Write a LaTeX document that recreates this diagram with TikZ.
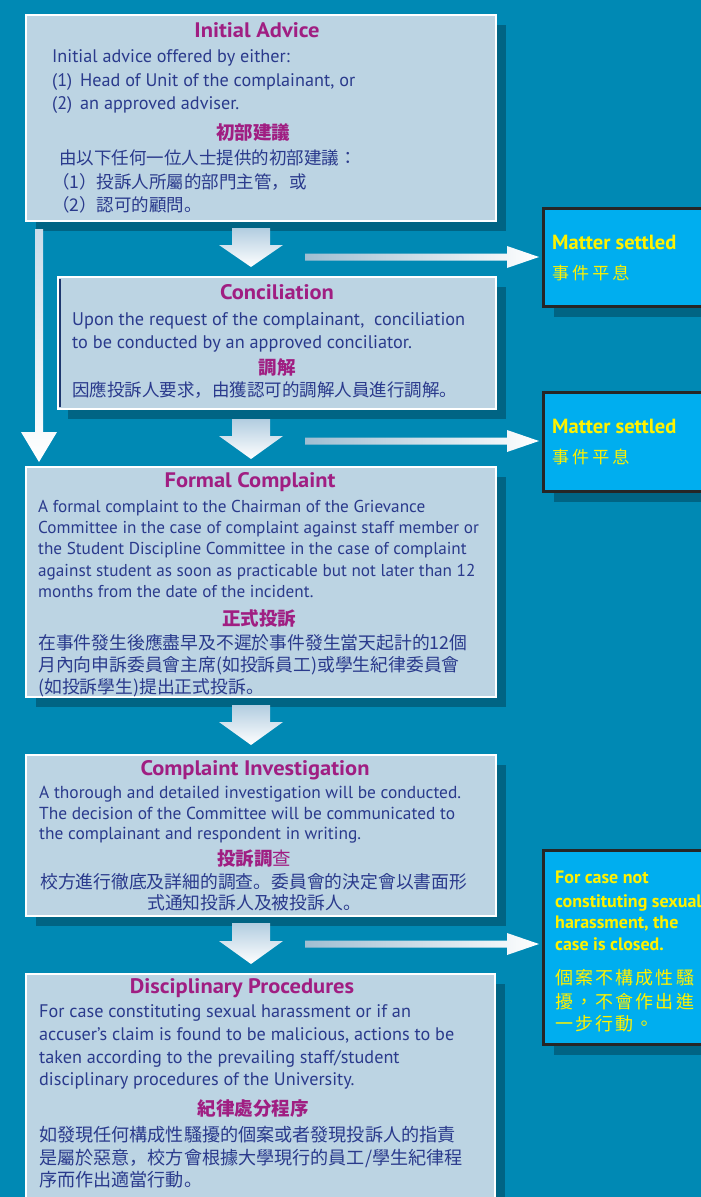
\documentclass[tikz,border=0pt]{standalone}
\usepackage{fontspec}
\setmainfont{PT Sans}
\newfontfamily\cjk{Noto Sans CJK JP}
\newfontfamily\cjkls[LetterSpace=18]{Noto Sans CJK JP}
\newfontfamily\cjklt[LetterSpace=12]{Noto Sans CJK TC}
\newfontfamily\headf[FakeStretch=1.07]{PT Sans}
\usetikzlibrary{shadows}
\definecolor{bgc}{RGB}{0,137,180}
\definecolor{boxc}{RGB}{188,212,227}
\definecolor{shc}{RGB}{0,100,132}
\definecolor{headc}{RGB}{160,30,130}
\definecolor{bodyc}{RGB}{42,58,140}
\definecolor{cyanc}{RGB}{0,174,239}
\definecolor{yelc}{RGB}{255,242,0}
\definecolor{arrtop}{RGB}{178,205,224}
\definecolor{arrleft}{RGB}{160,190,210}
\definecolor{navyc}{RGB}{30,55,110}
\begin{document}
\begin{tikzpicture}[x=1pt,y=-1pt,
  box/.style={draw=white, line width=2.5pt, fill=boxc, inner sep=0pt,
    drop shadow={shadow xshift=10pt, shadow yshift=-10pt, fill=shc, opacity=1}},
  endbox/.style={draw=black!85, line width=3pt, fill=cyanc, inner sep=0pt,
    drop shadow={shadow xshift=10pt, shadow yshift=-10pt, fill=shc, opacity=1}},
  en/.style={anchor=base west, inner sep=0pt, text=bodyc, font=\fontsize{#1}{20}\selectfont},
  en/.default=17,
  hd/.style={anchor=base, inner sep=0pt, text=headc, font=\headf\bfseries\fontsize{21}{22}\selectfont},
  zh/.style={anchor=base west, inner sep=0pt, text=bodyc, font=\cjk\fontsize{#1}{20}\selectfont},
  zh/.default=17.5,
  zhhd/.style={anchor=base, inner sep=0pt, text=headc, font=\cjk\bfseries\fontsize{18.5}{20}\selectfont},
  ye/.style={anchor=base west, inner sep=0pt, text=yelc, font=\bfseries\fontsize{#1}{22}\selectfont},
  ye/.default=20.5,
  yz/.style={anchor=base west, inner sep=0pt, text=yelc, font=\cjkls\fontsize{17}{20}\selectfont},
  yz2/.style={anchor=base west, inner sep=0pt, text=yelc, font=\cjklt\fontsize{18}{20}\selectfont},
  downarr/.style={top color=arrtop, bottom color=white},
  rightarr/.style={left color=arrleft, right color=white},
]
\useasboundingbox (0,0) rectangle (701,1197);
\fill[bgc] (0,0) rectangle (701,1197);
\clip (0,0) rectangle (701,1197);

% boxes
\node[box, minimum width=470pt, minimum height=206pt] (ia) at (261,118) {};
\node[box, minimum width=438pt, minimum height=132pt] (co) at (277,343) {};
\node[box, minimum width=470pt, minimum height=230pt] (fc) at (261,582) {};
\node[box, minimum width=470pt, minimum height=161pt] (ci) at (261,835.5) {};
\node[box, minimum width=469pt, minimum height=231pt] (dp) at (260.5,1089.5) {};
\node[endbox, minimum width=176.5pt, minimum height=98pt] (ms1) at (631.75,257.5) {};
\node[endbox, minimum width=176.5pt, minimum height=99.5pt] (ms2) at (631.75,441.75) {};
\node[endbox, minimum width=176.5pt, minimum height=194pt] (cc) at (631.75,947.5) {};
\draw[navyc, line width=1.5pt] (60,279) -- (60,407);

% long left arrow
\shade[top color=arrtop!70, bottom color=white] (35,229) -- (43,229) -- (43,432) -- (57,432) -- (39,462) -- (21,432) -- (35,432) -- cycle;

% down arrows
\foreach \t/\h/\b in {228/245/267, 419/436/459, 705/722/745, 923/941/964}{
  \shade[downarr] (232,\t) -- (270,\t) -- (270,\h) -- (283,\h) -- (251,\b) -- (219,\h) -- (232,\h) -- cycle;
}
% right arrows
\foreach \c in {257, 441, 944}{
  \shade[rightarr] (305,\c-3.5) -- (507,\c-3.5) -- (507,\c-11) -- (539,\c) -- (507,\c+11) -- (507,\c+3.5) -- (305,\c+3.5) -- cycle;
}

% Initial Advice
\node[hd] (iah) at (257,37) {Initial Advice};
\node[en=18.2] (ia1) at (52,62) {Initial advice offered by either:};
\node[en=18.2] (ia2) at (52,86) {\makebox[28pt][l]{(1)}Head of Unit of the complainant, or};
\node[en=18.2] (ia3) at (52,109) {\makebox[28pt][l]{(2)}an approved adviser.};
\node[zhhd] (iazh) at (253,139) {初部建議};
\node[zh] (iaz1) at (59,164.7) {由以下任何一位人士提供的初部建議：};
\node[zh] (iaz2) at (52,188.7) {（1）投訴人所屬的部門主管，或};
\node[zh] (iaz3) at (52,211.7) {（2）認可的顧問。};

% Conciliation
\node[hd] (coh) at (277,299) {Conciliation};
\node[en=18.3] (co1) at (72,325) {Upon the request of the complainant,\ \ conciliation};
\node[en=18.3] (co2) at (72,348) {to be conducted by an approved conciliator.};
\node[zhhd] (cozh) at (277,374) {調解};
\node[zh] (coz1) at (72,396.7) {因應投訴人要求，由獲認可的調解人員進行調解。};

% Formal Complaint
\node[hd] (fch) at (250,487) {Formal Complaint};
\node[en=17.2] (fc1) at (38,512) {A formal complaint to the Chairman of the Grievance};
\node[en=17.2] (fc2) at (38,533) {Committee in the case of complaint against staff member or};
\node[en=17.2] (fc3) at (38,554) {the Student Discipline Committee in the case of complaint};
\node[en=17.2] (fc4) at (38,576) {against student as soon as practicable but not later than 12};
\node[en=17.2] (fc5) at (38,597) {months from the date of the incident.};
\node[zhhd] (fczh) at (259,625) {正式投訴};
\node[zh=17.8] (fcz1) at (38,649) {在事件發生後應盡早及不遲於事件發生當天起計的12個};
\node[zh=17.8] (fcz2) at (38,671) {月內向申訴委員會主席(如投訴員工)或學生紀律委員會};
\node[zh=17.8] (fcz3) at (38,693.5) {(如投訴學生)提出正式投訴。};

% Complaint Investigation
\node[hd] (cih) at (255,775) {Complaint Investigation};
\node[en=17.4] (ci1) at (39,798) {A thorough and detailed investigation will be conducted.};
\node[en=17.4] (ci2) at (39,819) {The decision of the Committee will be communicated to};
\node[en=17.4] (ci3) at (39,839) {the complainant and respondent in writing.};
\node[zhhd] (cizh) at (254,865) {{\bfseries 投訴調}{\mdseries 查}};
\node[zh=17.8] (ciz1) at (40,888.7) {校方進行徹底及詳細的調查。委員會的決定會以書面形};
\node[zh=17.8, anchor=base] (ciz2) at (254,909.7) {式通知投訴人及被投訴人。};

% Disciplinary Procedures
\node[hd] (dph) at (242,993) {Disciplinary Procedures};
\node[en=18.2] (dp1) at (39,1017) {For case constituting sexual harassment or if an};
\node[en=18.2] (dp2) at (39,1040) {accuser’s claim is found to be malicious, actions to be};
\node[en=18.2] (dp3) at (39,1063) {taken according to the prevailing staff/student};
\node[en=18.2] (dp4) at (39,1085) {disciplinary procedures of the University.};
\node[zhhd] (dpzh) at (253,1115) {紀律處分程序};
\node[zh=18.1] (dpz1) at (39,1141.7) {如發現任何構成性騷擾的個案或者發現投訴人的指責};
\node[zh=18.1] (dpz2) at (39,1164.7) {是屬於惡意，校方會根據大學現行的員工/學生紀律程};
\node[zh=18.1] (dpz3) at (39,1186.7) {序而作出適當行動。};

% Matter settled boxes
\node[ye] (ms1e) at (552,249) {Matter settled};
\node[yz] (ms1z) at (552,279) {事件平息};
\node[ye] (ms2e) at (552,433) {Matter settled};
\node[yz] (ms2z) at (552,463) {事件平息};

% closed case box
\node[ye=18] (cc1) at (555,883) {For case not};
\node[ye=18] (cc2) at (555,907) {constituting sexual};
\node[ye=18] (cc3) at (555,928) {harassment, the};
\node[ye=18] (cc4) at (555,950) {case is closed.};
\node[yz2] (ccz1) at (555,984) {個案不構成性騷};
\node[yz2] (ccz2) at (555,1008) {擾，不會作出進};
\node[yz2] (ccz3) at (555,1030) {一步行動。};
\end{tikzpicture}
\end{document}
